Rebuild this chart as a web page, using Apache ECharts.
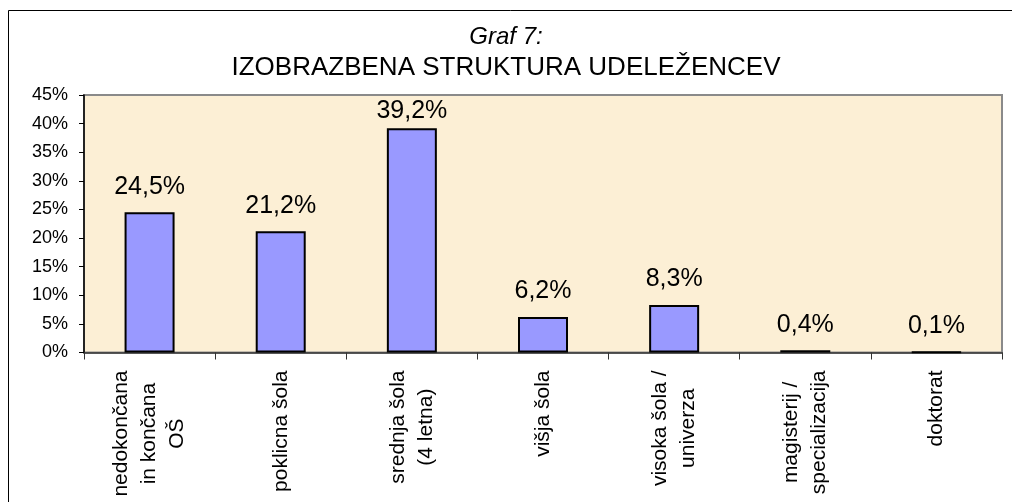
<!DOCTYPE html>
<html>
<head>
<meta charset="utf-8">
<script src="https://cdn.jsdelivr.net/npm/echarts@6/dist/echarts.min.js"></script>
<style>
  html, body { margin: 0; padding: 0; background: #fff; }
  #main { width: 1012px; height: 502px; }
</style>
</head>
<body>
<div id="main"></div>
<script>
// kategorije (vrstice so ločene z \n)
var categories = [
  "nedokončana\nin končana\nOŠ",
  "poklicna šola",
  "srednja šola\n(4 letna)",
  "višja šola",
  "visoka šola /\nuniverza",
  "magisterij /\nspecializacija",
  "doktorat"
];
// deleži v %
var values = [24.5, 21.2, 39.2, 6.2, 8.3, 0.4, 0.1];
var yTicks = { min: 0, max: 45, step: 5 };

var FONT = "'Liberation Sans', Arial, sans-serif";

var myChart = echarts.init(document.getElementById("main"));

// visoke stolpce ima oznaka bližje (ne sme čez rob)
var barData = values.map(function (v) {
  if (v > 36) return { value: v, label: { distance: 5 } };
  return v;
});

myChart.setOption({
  animation: false,
  title: [
    {
      text: "Graf 7:",
      left: "center",
      top: 20,
      textStyle: { fontFamily: FONT, fontSize: 24, fontStyle: "italic", fontWeight: "normal", color: "#000" }
    },
    {
      text: "IZOBRAZBENA STRUKTURA UDELEŽENCEV",
      left: "center",
      top: 50,
      textStyle: { fontFamily: FONT, fontSize: 26, fontWeight: "normal", color: "#000" }
    }
  ],
  graphic: [
    {
      type: "rect",
      shape: { x: 8.5, y: 10.5, width: 1100, height: 600 },
      style: { fill: null, stroke: "#000", lineWidth: 1 },
      z: -1
    }
  ],
  grid: {
    left: 84,
    top: 95,
    right: 10,
    bottom: 149.5,
    show: true,
    backgroundColor: "#fcefd5",
    borderColor: "#8a8a8a",
    borderWidth: 2
  },
  xAxis: {
    type: "category",
    data: categories,
    axisLine: { lineStyle: { color: "#333", width: 1.5 } },
    axisTick: { show: true, length: 7, lineStyle: { color: "#333" } },
    axisLabel: {
      rotate: 90,
      interval: 0,
      margin: 18,
      color: "#000",
      fontFamily: FONT,
      fontSize: 21,
      formatter: function (v) {
        return v.split("\n").map(function (l) { return "{c|" + l + "}"; }).join("\n");
      },
      rich: {
        c: { align: "center", fontFamily: FONT, fontSize: 21, lineHeight: 28, color: "#000" }
      }
    }
  },
  yAxis: {
    type: "value",
    min: yTicks.min,
    max: yTicks.max,
    interval: yTicks.step,
    splitLine: { show: false },
    axisLine: { show: true, lineStyle: { color: "#000", width: 1.5 } },
    axisTick: { show: true, length: 5, lineStyle: { color: "#000" } },
    axisLabel: {
      formatter: "{value}%",
      margin: 16,
      color: "#000",
      fontFamily: FONT,
      fontSize: 18
    }
  },
  series: [
    {
      type: "bar",
      data: barData,
      barWidth: 50,
      itemStyle: { color: "#9999ff", borderColor: "#000", borderWidth: 2 },
      label: {
        show: true,
        position: "top",
        distance: 13,
        color: "#000",
        fontFamily: FONT,
        fontSize: 25,
        formatter: function (p) {
          return p.value.toFixed(1).replace(".", ",") + "%";
        }
      }
    }
  ]
});
</script>
</body>
</html>
